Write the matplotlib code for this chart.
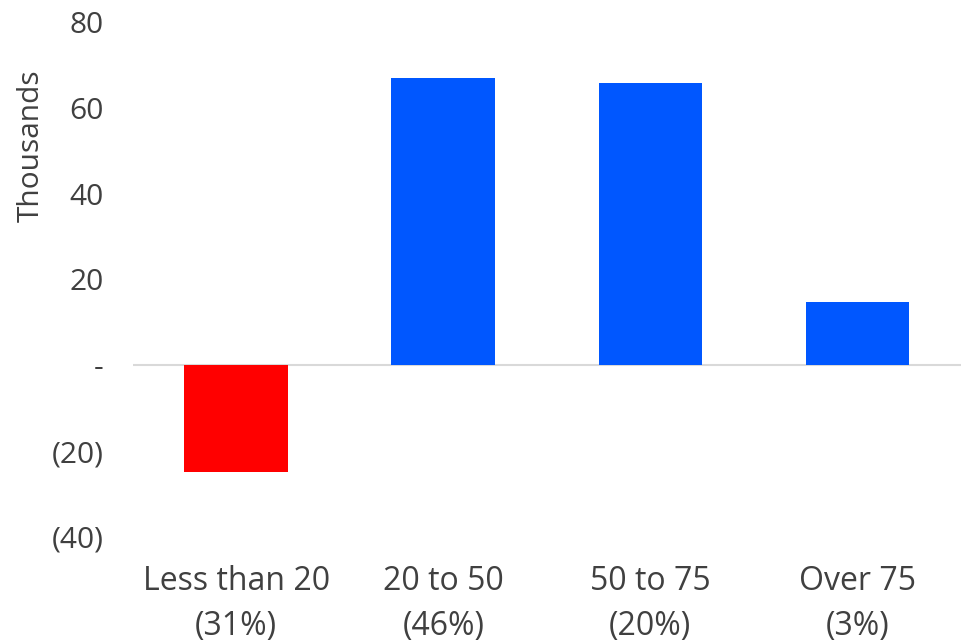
import matplotlib
matplotlib.use("Agg")
import matplotlib.pyplot as plt
from matplotlib.ticker import FuncFormatter

# data (thousands)
categories = ["Less than 20\n(31%)", "20 to 50\n(46%)", "50 to 75\n(20%)", "Over 75\n(3%)"]
values = [-24.9, 67.0, 65.8, 14.7]
bar_colors = ["#FF0000", "#0057FF", "#0057FF", "#0057FF"]
yticks = [-40, -20, 0, 20, 40, 60, 80]

plt.rcParams['font.family'] = ['Open Sans', 'DejaVu Sans']
txt = "#404040"

fig = plt.figure(figsize=(9.61, 6.42), dpi=100)
ax = fig.add_axes([0.138, 0.1636, 0.862, 0.8021])

x = list(range(len(categories)))
ax.bar(x, values, width=0.5, color=bar_colors, zorder=2)
ax.axhline(0, color="#D9D9D9", linewidth=1.5, zorder=1)

ax.set_xlim(-0.5, len(categories) - 0.5)
ax.set_ylim(-40, 80)
ax.set_yticks(yticks)

def fmt(v, pos):
    if v == 0:
        return "-"
    if v < 0:
        return "(%d)" % abs(v)
    return "%d" % v

ax.yaxis.set_major_formatter(FuncFormatter(fmt))
ax.set_xticks(x)
ax.set_xticklabels(categories, linespacing=1.5)
ax.tick_params(axis="both", length=0, colors=txt)
ax.tick_params(axis="y", pad=21, labelsize=21.5)
ax.tick_params(axis="x", pad=20, labelsize=23)

ax.set_ylabel("Thousands", fontsize=21.5, color=txt)
ax.yaxis.set_label_coords(-0.105, 0.76)

for s in ax.spines.values():
    s.set_visible(False)

fig.savefig("out.png", dpi=100)
